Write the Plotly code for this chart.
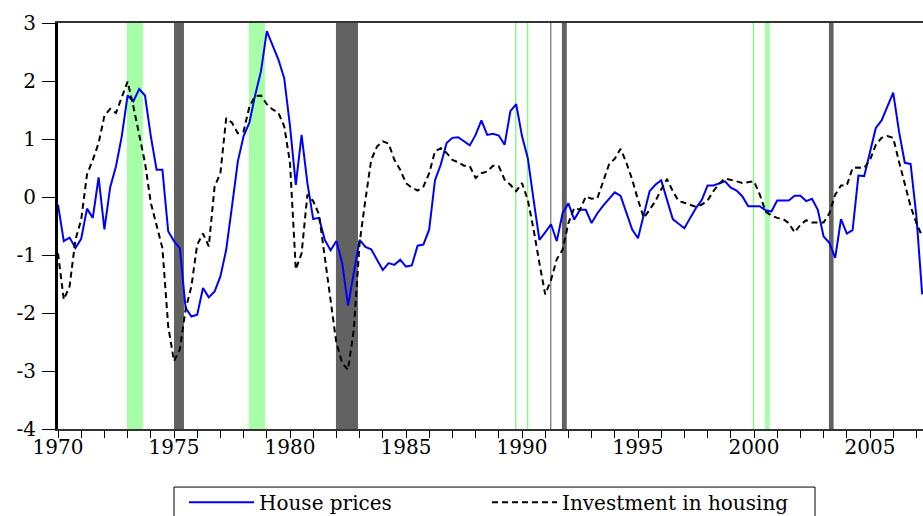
import plotly.graph_objects as go

# Quarterly series, 1970Q1 onwards
start_year = 1970
house_prices = [
    -0.13, -0.76, -0.70, -0.88, -0.72, -0.20, -0.36, 0.34, -0.56, 0.17,
    0.53, 1.05, 1.75, 1.65, 1.86, 1.75, 1.05, 0.47, 0.47, -0.59,
    -0.76, -0.88, -1.91, -2.06, -2.03, -1.57, -1.73, -1.63, -1.37, -0.91,
    -0.16, 0.61, 1.05, 1.28, 1.76, 2.17, 2.86, 2.62, 2.37, 2.05,
    1.22, 0.21, 1.07, 0.24, -0.38, -0.36, -0.74, -0.92, -0.76, -1.14,
    -1.87, -1.31, -0.74, -0.86, -0.90, -1.08, -1.26, -1.14, -1.17, -1.08,
    -1.20, -1.18, -0.84, -0.82, -0.56, 0.29, 0.56, 0.93, 1.02, 1.03,
    0.96, 0.89, 1.07, 1.32, 1.07, 1.09, 1.06, 0.90, 1.48, 1.60,
    1.05, 0.67, -0.05, -0.74, -0.61, -0.47, -0.76, -0.28, -0.11, -0.39,
    -0.22, -0.22, -0.45, -0.28, -0.15, -0.03, 0.08, 0.02, -0.28, -0.56,
    -0.71, -0.28, 0.10, 0.21, 0.29, -0.05, -0.38, -0.46, -0.54, -0.36,
    -0.19, -0.05, 0.20, 0.20, 0.23, 0.27, 0.16, 0.11, 0.01, -0.16,
    -0.16, -0.16, -0.23, -0.25, -0.06, -0.06, -0.06, 0.02, 0.02, -0.07,
    -0.03, -0.22, -0.68, -0.79, -1.05, -0.38, -0.63, -0.57, 0.37, 0.36,
    0.79, 1.19, 1.32, 1.56, 1.80, 1.13, 0.59, 0.57, -0.33, -1.68,
]
investment_housing = [
    -0.97, -1.77, -1.54, -0.74, -0.39, 0.39, 0.64, 0.93, 1.40, 1.52,
    1.45, 1.72, 1.99, 1.56, 1.10, 0.59, -0.10, -0.51, -0.88, -2.23,
    -2.83, -2.63, -1.94, -1.54, -0.82, -0.63, -0.85, 0.18, 0.41, 1.36,
    1.28, 1.10, 1.13, 1.56, 1.74, 1.75, 1.60, 1.51, 1.45, 1.22,
    0.59, -1.25, -0.97, 0.04, -0.07, -0.30, -1.05, -1.80, -2.52, -2.86,
    -2.98, -2.29, -0.79, -0.05, 0.64, 0.87, 0.96, 0.92, 0.64, 0.47,
    0.24, 0.16, 0.11, 0.18, 0.41, 0.79, 0.84, 0.76, 0.64, 0.60,
    0.54, 0.53, 0.33, 0.41, 0.44, 0.54, 0.53, 0.30, 0.21, 0.10,
    0.24, -0.05, -0.56, -1.14, -1.68, -1.43, -1.07, -0.91, -0.45, -0.19,
    -0.22, 0.01, -0.03, -0.02, 0.27, 0.56, 0.66, 0.83, 0.59, 0.30,
    -0.05, -0.36, -0.22, -0.07, 0.13, 0.31, 0.10, -0.07, -0.10, -0.13,
    -0.17, -0.13, -0.06, 0.10, 0.23, 0.32, 0.30, 0.27, 0.24, 0.26,
    0.27, 0.04, -0.25, -0.32, -0.36, -0.38, -0.45, -0.61, -0.48, -0.40,
    -0.44, -0.44, -0.44, -0.28, 0.04, 0.20, 0.20, 0.50, 0.51, 0.50,
    0.64, 0.90, 1.02, 1.05, 1.02, 0.61, 0.24, -0.16, -0.45, -0.68,
]
dates = [start_year + i / 4 for i in range(len(house_prices))]

# Shaded episodes (start, end) in decimal years
green_bands = [(1972.97, 1973.66), (1978.23, 1978.92), (2000.47, 2000.68)]
dark_bands = [(1975.0, 1975.43), (1981.98, 1982.93), (1991.72, 1991.93), (2003.23, 2003.43)]
green_lines = [1989.73, 1990.24, 1999.98]
grey_lines = [1991.24]

y_ticks = [3, 2, 1, 0, -1, -2, -3, -4]
x_ticks = [1970, 1975, 1980, 1985, 1990, 1995, 2000, 2005]

GREEN = "#a6ffa6"
DARK = "#626262"
FONT = "DejaVu Serif"

fig = go.Figure()
fig.add_trace(go.Scatter(x=dates, y=house_prices, mode="lines", name="House prices",
                         line=dict(color="#0000ff", width=2), legend="legend"))
fig.add_trace(go.Scatter(x=dates, y=investment_housing, mode="lines", name="Investment in housing",
                         line=dict(color="#000000", width=2, dash="6px,4px"), legend="legend2"))

for a, b in green_bands:
    fig.add_vrect(x0=a, x1=b, fillcolor=GREEN, opacity=1, line_width=0, layer="below")
for a, b in dark_bands:
    fig.add_vrect(x0=a, x1=b, fillcolor=DARK, opacity=1, line_width=0, layer="below")
for v in green_lines:
    fig.add_vline(x=v, line=dict(color="#8cf58c", width=1.5), layer="below")
for v in grey_lines:
    fig.add_vline(x=v, line=dict(color="#707070", width=1.2), layer="below")

# legend frame (bottom edge runs past the page, as in the source)
fig.add_shape(type="rect", xref="paper", yref="paper",
              x0=(174 - 58) / 865, x1=(815 - 58) / 865, y0=-0.143, y1=-0.3,
              line=dict(color="black", width=1), fillcolor="rgba(0,0,0,0)")

leg_common = dict(orientation="h", yanchor="top", y=-0.1326, xanchor="left",
                  borderwidth=0, bgcolor="rgba(0,0,0,0)",
                  font=dict(family=FONT, size=20), itemwidth=65)

fig.update_layout(
    width=923, height=516,
    margin=dict(l=58, r=0, t=23, b=87, autoexpand=False),
    paper_bgcolor="white", plot_bgcolor="white",
    font=dict(family=FONT, size=20, color="black"),
    showlegend=True,
    legend=dict(x=(184 - 58) / 865, **leg_common),
    legend2=dict(x=(487 - 58) / 865, **leg_common),
)
fig.update_xaxes(range=[1970, 1970 + 865 / 23.2], tickvals=x_ticks,
                 ticktext=[str(t) for t in x_ticks],
                 ticks="outside", ticklen=7, tickwidth=1, tickcolor="black",
                 minor=dict(dtick=1, tick0=1970, ticks="outside", ticklen=7, tickwidth=1, tickcolor="black"),
                 showgrid=False, zeroline=False, showline=True, linecolor="#333333", linewidth=2,
                 mirror=True, ticklabelstandoff=-8)
fig.update_yaxes(range=[-4, 3], tickvals=y_ticks, ticktext=[str(t) for t in y_ticks],
                 ticks="outside", ticklen=13, tickwidth=1, tickcolor="black",
                 showgrid=False, zeroline=False, showline=True, linecolor="black", linewidth=3,
                 ticklabelstandoff=2)

fig.write_html("out.html", config={"displayModeBar": False},
               post_script="document.body.style.margin='0';document.body.style.overflow='hidden';")
